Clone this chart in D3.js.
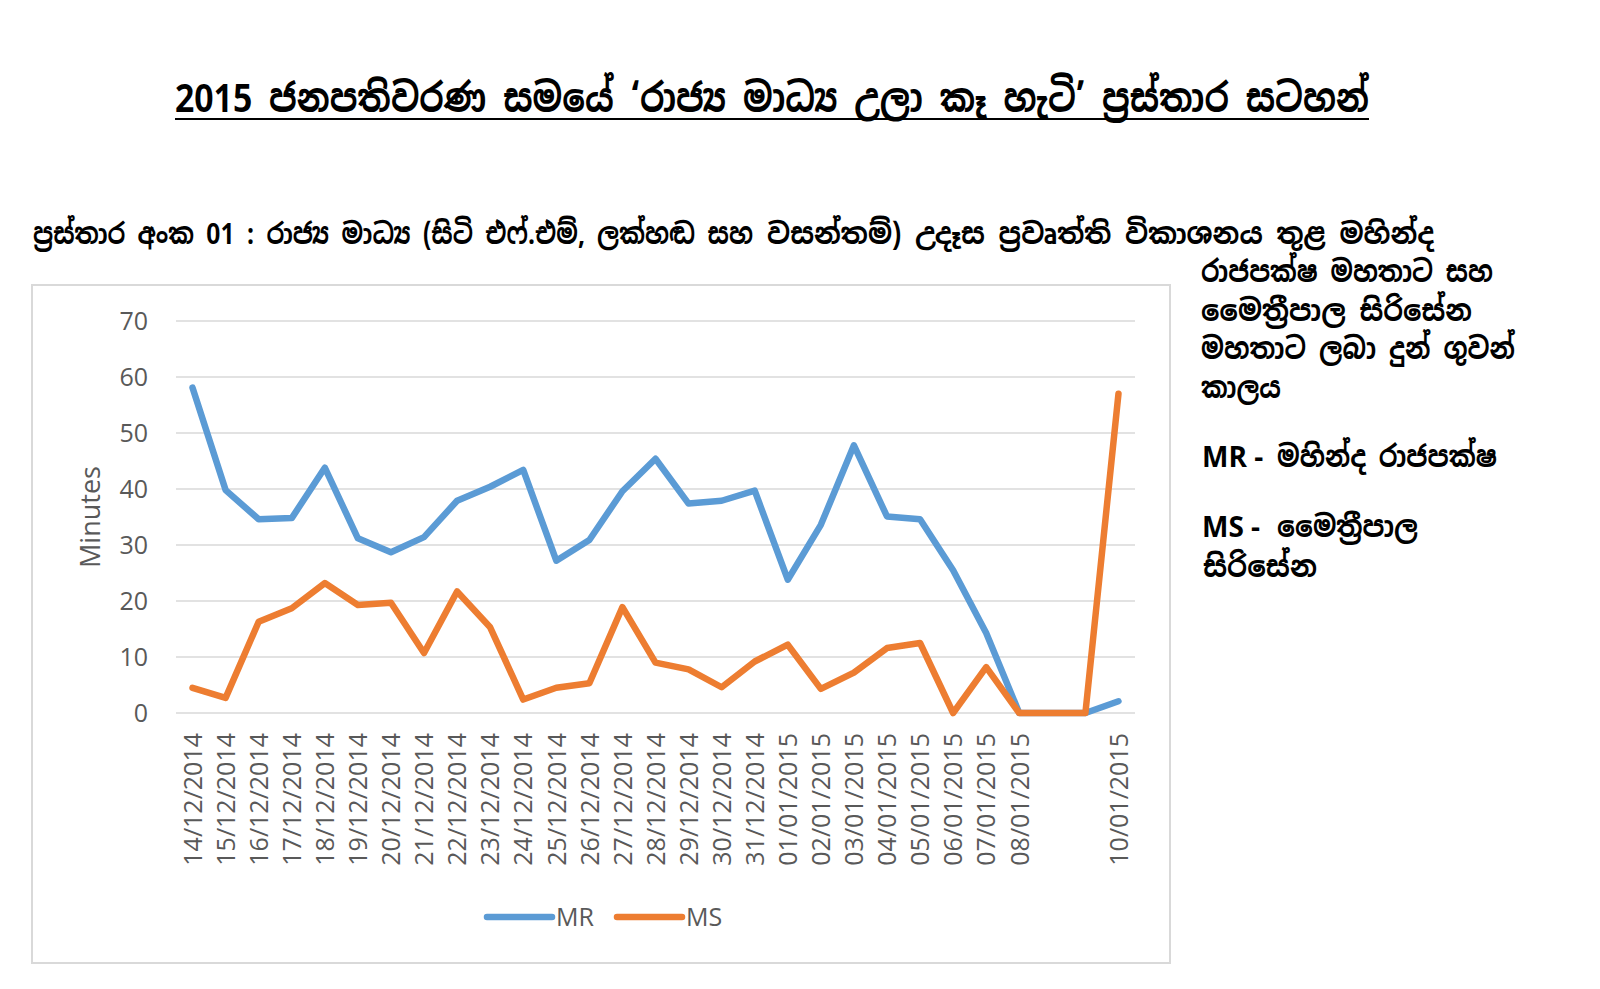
<!DOCTYPE html>
<html>
<head>
<meta charset="utf-8">
<script src="https://cdn.jsdelivr.net/npm/d3@7/dist/d3.min.js"></script>
<style>
  body { margin: 0; background: #fff; }
  svg { display: block; }
</style>
</head>
<body>
<script>
// categories (two unlabeled slots before the last day, as in the source sheet)
const dates = [
  "14/12/2014", "15/12/2014", "16/12/2014", "17/12/2014", "18/12/2014", "19/12/2014",
  "20/12/2014", "21/12/2014", "22/12/2014", "23/12/2014", "24/12/2014", "25/12/2014",
  "26/12/2014", "27/12/2014", "28/12/2014", "29/12/2014", "30/12/2014", "31/12/2014",
  "01/01/2015", "02/01/2015", "03/01/2015", "04/01/2015", "05/01/2015", "06/01/2015",
  "07/01/2015", "08/01/2015", "", "", "10/01/2015"
]

// minutes of air time
const mrMinutes = [58.1, 39.8, 34.6, 34.8, 43.8, 31.2, 28.7, 31.4, 37.9, 40.4, 43.4, 27.2,
  30.9, 39.6, 45.4, 37.4, 37.9, 39.7, 23.8, 33.6, 47.8, 35.1, 34.6, 25.5, 14.3, 0, 0, 0, 2.1]
const msMinutes = [4.5, 2.7, 16.3, 18.7, 23.2, 19.3, 19.7, 10.7, 21.7, 15.3, 2.4, 4.5,
  5.3, 18.9, 9.0, 7.8, 4.6, 9.2, 12.2, 4.3, 7.2, 11.6, 12.5, 0, 8.2, 0, 0, 0, 57.0]

const yTicks = [0, 10, 20, 30, 40, 50, 60, 70]
const seriesNames = ["MR", "MS"]
const seriesColors = ["#5B9BD5", "#ED7D31"]

const titleText = "2015 ජනපතිවරණ සමයේ ‘රාජ්‍ය මාධ්‍ය උලා කෑ හැටි’ ප්‍රස්තාර සටහන්"
const subtitleParts = [
  "ප්‍රස්තාර අංක 01 : රාජ්‍ය මාධ්‍ය (සිටි එෆ්.එම්, ලක්හඬ සහ",
  "වසන්තම්) උදෑස ප්‍රවෘත්ති විකාශනය තුළ මහින්ද"
]
const noteLines = ["රාජපක්ෂ මහතාට සහ", "මෛත්‍රීපාල සිරිසේන", "මහතාට ලබා දුන් ගුවන්", "කාලය"]
const noteWidths = [292, 271, 314, 80]
const keyCodes = ["MR -", "MS -"]
const keyNames = [["මහින්ද රාජපක්ෂ"], ["මෛත්‍රීපාල", "සිරිසේන"]]

const width = 1600
const height = 989
const sinhalaFont = "'Iskoola Pota', 'Noto Sans Sinhala', 'Noto Serif Sinhala', 'Noto Sans', sans-serif"
const chartFont = "'Open Sans', 'Liberation Sans', sans-serif"
const textGray = "#595959"
const gridGray = "#D9D9D9"

let frame = ({left: 32, top: 285, right: 1170, bottom: 963})
let plot = ({left: 176, right: 1135, top: 321, bottom: 713})

const svg = d3.select("body")
  .append("svg")
  .attr("width", width)
  .attr("height", height)

// headings
svg.append("text")
  .attr("x", 175)
  .attr("y", 112)
  .attr("textLength", 1194)
  .attr("lengthAdjust", "spacingAndGlyphs")
  .attr("font-family", sinhalaFont)
  .attr("font-size", 40)
  .attr("font-weight", "bold")
  .attr("fill", "#000")
  .text(titleText)

svg.append("line")
  .attr("x1", 175).attr("x2", 1369)
  .attr("y1", 119).attr("y2", 119)
  .attr("stroke", "#000")
  .attr("stroke-width", 2)

let subtitleX = [33, 767]
let subtitleW = [720, 667]
svg.append("g")
  .selectAll("text")
  .data(subtitleParts)
  .join("text")
    .attr("x", (d, i) => subtitleX[i])
    .attr("y", 244)
    .attr("textLength", (d, i) => subtitleW[i])
    .attr("lengthAdjust", "spacingAndGlyphs")
    .attr("font-family", sinhalaFont)
    .attr("font-size", 29)
    .attr("font-weight", "bold")
    .attr("fill", "#000")
    .text(d => d)

svg.append("g")
  .selectAll("text")
  .data(noteLines)
  .join("text")
    .attr("x", 1201)
    .attr("y", (d, i) => 282 + i * 38.5)
    .attr("textLength", (d, i) => noteWidths[i])
    .attr("lengthAdjust", "spacingAndGlyphs")
    .attr("font-family", sinhalaFont)
    .attr("font-size", 30)
    .attr("font-weight", "bold")
    .attr("fill", "#000")
    .text(d => d)

// MR / MS key on the right
let keyTop = [467, 537]
let keyNameWidths = [[220], [141, 114]]
keyCodes.forEach((code, k) => {
  let g = svg.append("g")
  g.append("text")
    .attr("x", 1202)
    .attr("y", keyTop[k])
    .attr("font-family", chartFont)
    .attr("font-size", 28)
    .attr("font-weight", "bold")
    .attr("fill", "#000")
    .text(code)
  keyNames[k].forEach((name, j) => {
    g.append("text")
      .attr("x", j === 0 ? 1277 : 1203)
      .attr("y", keyTop[k] + j * 40)
      .attr("textLength", keyNameWidths[k][j])
      .attr("lengthAdjust", "spacingAndGlyphs")
      .attr("font-family", sinhalaFont)
      .attr("font-size", 30)
      .attr("font-weight", "bold")
      .attr("fill", "#000")
      .text(name)
  })
})

// chart frame
svg.append("rect")
  .attr("x", frame.left)
  .attr("y", frame.top)
  .attr("width", frame.right - frame.left)
  .attr("height", frame.bottom - frame.top)
  .attr("fill", "#fff")
  .attr("stroke", gridGray)
  .attr("stroke-width", 2)

let x = d3.scalePoint()
  .domain(d3.range(dates.length))
  .range([plot.left, plot.right])
  .padding(0.5)

let y = d3.scaleLinear()
  .domain([0, 70])
  .range([plot.bottom, plot.top])

// gridlines
svg.append("g")
  .selectAll("line")
  .data(yTicks)
  .join("line")
    .attr("x1", plot.left)
    .attr("x2", plot.right)
    .attr("y1", d => y(d))
    .attr("y2", d => y(d))
    .attr("stroke", gridGray)
    .attr("stroke-width", 1.5)

let yAxis = g => g
  .attr("transform", `translate(${plot.left},0)`)
  .call(d3.axisLeft(y).tickValues(yTicks).tickSize(0).tickPadding(28))
  .call(g => g.select(".domain").remove())
  .call(g => g.selectAll("text")
    .attr("font-family", chartFont)
    .attr("font-size", 25)
    .attr("fill", textGray))

let xAxis = g => g
  .attr("transform", `translate(0,${plot.bottom})`)
  .call(d3.axisBottom(x).tickSize(0).tickFormat(i => dates[i]))
  .call(g => g.select(".domain").remove())
  .call(g => g.selectAll("text")
    .attr("transform", "rotate(-90)")
    .attr("text-anchor", "end")
    .attr("x", -20)
    .attr("y", 0)
    .attr("dy", "0.35em")
    .attr("font-family", chartFont)
    .attr("font-size", 25)
    .attr("fill", textGray))

svg.append("g").call(yAxis)
svg.append("g").call(xAxis)

svg.append("text")
  .attr("transform", `translate(93,${(plot.top + plot.bottom) / 2}) rotate(-90)`)
  .attr("text-anchor", "middle")
  .attr("dominant-baseline", "middle")
  .attr("font-family", chartFont)
  .attr("font-size", 27)
  .attr("fill", textGray)
  .text("Minutes")

let line = d3.line()
  .x((d, i) => x(i))
  .y(d => y(d))

const series = [mrMinutes, msMinutes]

svg.append("g")
  .selectAll("path")
  .data(series)
  .join("path")
    .attr("fill", "none")
    .attr("stroke", (d, i) => seriesColors[i])
    .attr("stroke-width", 6.5)
    .attr("stroke-linejoin", "round")
    .attr("stroke-linecap", "round")
    .attr("d", line)

// legend
let legend = svg.append("g")
  .attr("transform", "translate(487,917)")
  .selectAll("g")
  .data(seriesNames)
  .join("g")
    .attr("transform", (d, i) => `translate(${i * 130},0)`)

legend.append("line")
  .attr("x1", 0).attr("x2", 65)
  .attr("stroke", (d, i) => seriesColors[i])
  .attr("stroke-width", 6.5)
  .attr("stroke-linecap", "round")

legend.append("text")
  .attr("x", 69)
  .attr("dy", "0.35em")
  .attr("font-family", chartFont)
  .attr("font-size", 25)
  .attr("fill", textGray)
  .text(d => d)
</script>
</body>
</html>
